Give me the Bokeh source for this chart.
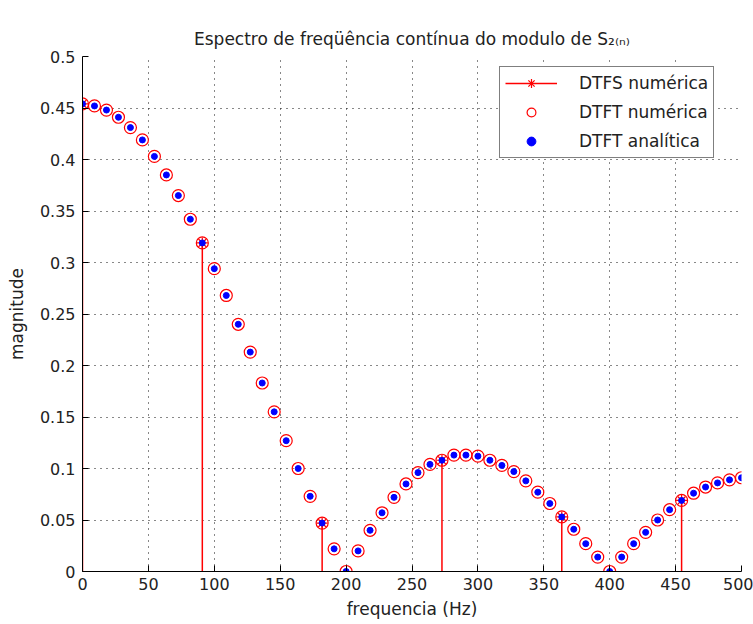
from bokeh.plotting import figure
from bokeh.models import (Range1d, FixedTicker, NumeralTickFormatter, Legend, LegendItem,
                          ColumnDataSource)
from bokeh.embed import file_html
from bokeh.resources import INLINE

# ---------------- data ----------------
freq = [0, 9.09, 18.18, 27.27, 36.36, 45.45, 54.55, 63.64, 72.73, 81.82,
        90.91, 100, 109.09, 118.18, 127.27, 136.36, 145.45, 154.55, 163.64, 172.73,
        181.82, 190.91, 200, 209.09, 218.18, 227.27, 236.36, 245.45, 254.55, 263.64,
        272.73, 281.82, 290.91, 300, 309.09, 318.18, 327.27, 336.36, 345.45, 354.55,
        363.64, 372.73, 381.82, 390.91, 400, 409.09, 418.18, 427.27, 436.36, 445.45,
        454.55, 463.64, 472.73, 481.82, 490.91, 500]

dtft_numerica = [0.454, 0.452, 0.448, 0.441, 0.431, 0.419, 0.403, 0.385, 0.365, 0.342,
                 0.319, 0.294, 0.268, 0.240, 0.213, 0.183, 0.155, 0.127, 0.100, 0.073,
                 0.047, 0.022, 0.000, 0.020, 0.040, 0.057, 0.072, 0.085, 0.096, 0.104,
                 0.108, 0.113, 0.113, 0.112, 0.108, 0.103, 0.097, 0.088, 0.077, 0.066,
                 0.053, 0.041, 0.027, 0.014, 0.000, 0.014, 0.027, 0.038, 0.050, 0.060,
                 0.069, 0.076, 0.082, 0.086, 0.089, 0.091]

dtft_analitica = [0.454, 0.452, 0.448, 0.441, 0.431, 0.419, 0.403, 0.385, 0.365, 0.342,
                  0.319, 0.294, 0.268, 0.240, 0.213, 0.183, 0.155, 0.127, 0.100, 0.073,
                  0.047, 0.022, 0.000, 0.020, 0.040, 0.057, 0.072, 0.085, 0.096, 0.104,
                  0.108, 0.113, 0.113, 0.112, 0.108, 0.103, 0.097, 0.088, 0.077, 0.066,
                  0.053, 0.041, 0.027, 0.014, 0.000, 0.014, 0.027, 0.038, 0.050, 0.060,
                  0.069, 0.076, 0.082, 0.086, 0.089, 0.091]

dtfs_freq = [0, 90.91, 181.82, 272.73, 363.64, 454.55]
dtfs_mag = [0.454, 0.319, 0.047, 0.108, 0.053, 0.069]

x_ticks = [0, 50, 100, 150, 200, 250, 300, 350, 400, 450, 500]
y_ticks = [0, 0.05, 0.1, 0.15, 0.2, 0.25, 0.3, 0.35, 0.4, 0.45, 0.5]

title_text = "Espectro de freqüência contínua do modulo de S\u2082\u208d\u2099\u208e"
x_label = "frequencia (Hz)"
y_label = "magnitude"
legend_labels = ["DTFS numérica", "DTFT numérica", "DTFT analítica"]

FONT = "DejaVu Sans"

# ---------------- figure ----------------
p = figure(width=753, height=624, output_backend="svg", toolbar_location=None,
           x_range=Range1d(0, 500), y_range=Range1d(0, 0.5),
           min_border_left=82, min_border_right=12, min_border_top=56, min_border_bottom=53)
p.background_fill_color = "white"
p.border_fill_color = "white"
p.outline_line_color = None

p.title.text = title_text
p.title.text_font = FONT
p.title.text_font_size = "17px"
p.title.text_font_style = "normal"
p.title.text_color = "#222222"
p.title.align = "center"
p.title.offset = 5
p.title.standoff = 16

for ax, ticks in ((p.xaxis[0], x_ticks), (p.yaxis[0], y_ticks)):
    ax.ticker = FixedTicker(ticks=ticks)
    ax.formatter = NumeralTickFormatter(format="0.[00]")
    ax.major_tick_in = 6
    ax.major_tick_out = 0
    ax.minor_tick_in = 0
    ax.minor_tick_out = 0
    ax.axis_line_color = "black"
    ax.major_tick_line_color = "black"
    ax.major_label_text_font = FONT
    ax.major_label_text_font_size = "16px"
    ax.major_label_text_color = "#222222"
    ax.axis_label_text_font = FONT
    ax.axis_label_text_font_size = "17px"
    ax.axis_label_text_font_style = "normal"
    ax.axis_label_text_color = "#222222"

p.xaxis.axis_label = x_label
p.yaxis.axis_label = y_label
p.xaxis.major_label_standoff = 6
p.yaxis.major_label_standoff = 7
p.xaxis.axis_label_standoff = 6
p.yaxis.axis_label_standoff = 10

for g in (p.xgrid[0], p.ygrid[0]):
    g.grid_line_color = "#111111"
    g.grid_line_dash = "1 5"
    g.grid_line_width = 1
p.xgrid.ticker = FixedTicker(ticks=x_ticks)
p.ygrid.ticker = FixedTicker(ticks=y_ticks)

# ---------------- glyphs ----------------
stem_src = ColumnDataSource(dict(x=dtfs_freq, y=dtfs_mag, y0=[0] * len(dtfs_freq)))
stems = p.segment(x0="x", y0="y0", x1="x", y1="y", source=stem_src,
                  line_color="#ff0000", line_width=1.5)
stars = p.scatter(x="x", y="y", source=stem_src, marker="asterisk", size=11,
                  line_color="#ff0000", line_width=1.2)
circ = p.scatter(freq, dtft_numerica, marker="circle", size=12, fill_color=None,
                 line_color="#ff0000", line_width=1.2)
dots = p.scatter(freq, dtft_analitica, marker="circle", size=6, fill_color="#0000ff",
                 line_color="#0000ff")

legend = Legend(items=[LegendItem(label=legend_labels[0], renderers=[stems, stars]),
                       LegendItem(label=legend_labels[1], renderers=[circ]),
                       LegendItem(label=legend_labels[2], renderers=[dots])],
                location=(417, 413))
legend.label_text_font = FONT
legend.label_text_font_size = "17px"
legend.label_text_color = "#222222"
legend.border_line_color = "black"
legend.border_line_width = 1
legend.background_fill_color = "white"
legend.background_fill_alpha = 1
legend.glyph_width = 52
legend.glyph_height = 22
legend.label_height = 22
legend.label_standoff = 22
legend.spacing = 7
legend.padding = 5
legend.margin = 0
p.add_layout(legend, "center")

open("out.html", "w").write(file_html(p, INLINE))
